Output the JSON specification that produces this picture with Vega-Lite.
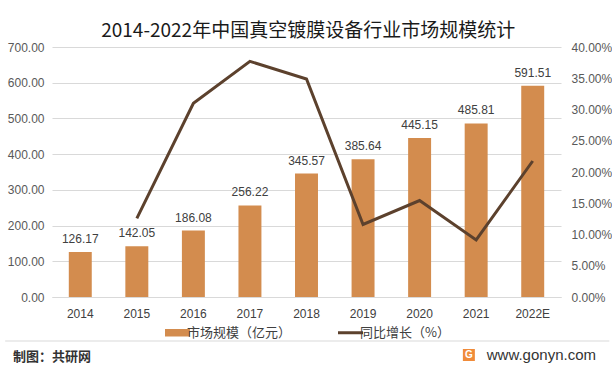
{
  "$schema": "https://vega.github.io/schema/vega-lite/v6.json",
  "background": "white",
  "padding": {"left": 4, "top": 22, "right": 4, "bottom": 0},
  "title": {"text": "2014-2022年中国真空镀膜设备行业市场规模统计", "font": "Noto Sans CJK SC", "fontSize": 19, "fontWeight": "normal", "color": "#1a1a1a", "anchor": "middle", "offset": 0},
  "config": {"view": {"stroke": null}, "concat": {"spacing": 0}},
  "resolve": {"scale": {"color": "independent"}, "legend": {"color": "independent"}},
  "vconcat": [
    {
      "width": 509,
      "height": 250,
      "data": {"values": [
        {"year": "2014", "size": 126.17, "growth": null},
        {"year": "2015", "size": 142.05, "growth": 0.1259},
        {"year": "2016", "size": 186.08, "growth": 0.3100},
        {"year": "2017", "size": 256.22, "growth": 0.3770},
        {"year": "2018", "size": 345.57, "growth": 0.3487},
        {"year": "2019", "size": 385.64, "growth": 0.1160},
        {"year": "2020", "size": 445.15, "growth": 0.1543},
        {"year": "2021", "size": 485.81, "growth": 0.0913},
        {"year": "2022E", "size": 591.51, "growth": 0.2176}
      ]},
      "encoding": {
        "x": {"field": "year", "type": "ordinal", "sort": null, "title": null,
          "scale": {"paddingInner": 0.594, "paddingOuter": 0.297},
          "axis": {"labelAngle": 0, "labelFont": "Liberation Sans", "labelFontSize": 12, "labelColor": "#404040", "labelPadding": 11, "ticks": false, "domain": true, "domainColor": "#d9d9d9", "grid": false}}
      },
      "layer": [
        {
          "encoding": {
            "y": {"field": "size", "type": "quantitative", "title": null,
              "scale": {"domain": [0, 700]},
              "axis": {"values": [0, 100, 200, 300, 400, 500, 600, 700], "format": ".2f", "labelFont": "Liberation Sans", "labelFontSize": 12, "labelColor": "#595959", "ticks": false, "domain": false, "gridColor": "#d9d9d9", "labelPadding": 8}}
          },
          "layer": [
            {
              "mark": {"type": "bar", "color": "#D38C4E"},
              "encoding": {
                "color": {"datum": "市场规模（亿元）", "type": "nominal",
                  "scale": {"domain": ["市场规模（亿元）", "同比增长（%）"], "range": ["#D38C4E", "#5C412D"]},
                  "legend": {"orient": "none", "legendX": 119, "legendY": 279, "direction": "horizontal", "title": null, "labelFont": "Noto Sans CJK SC", "labelFontSize": 13, "labelColor": "#404040", "symbolSize": 625, "columnPadding": 40, "labelOffset": 3,
                    "encode": {"symbols": {"update": {
                      "shape": {"signal": "datum.value === '同比增长（%）' ? 'M-1,0H1' : 'M-1,-0.3H1V0.3H-1Z'"},
                      "fill": {"signal": "datum.value === '同比增长（%）' ? 'transparent' : '#D38C4E'"},
                      "stroke": {"value": "#5C412D"},
                      "strokeWidth": {"signal": "datum.value === '同比增长（%）' ? 3 : 0"},
                      "opacity": {"value": 1}
                    }}}}}
              }
            },
            {
              "mark": {"type": "text", "baseline": "bottom", "dy": -6, "font": "Liberation Sans", "fontSize": 12, "color": "#404040"},
              "encoding": {
                "text": {"field": "size", "type": "quantitative", "format": ".2f"}
              }
            }
          ]
        },
        {
          "mark": {"type": "line", "color": "#5C412D", "strokeWidth": 3},
          "encoding": {
            "y": {"field": "growth", "type": "quantitative", "title": null,
              "scale": {"domain": [0, 0.4]},
              "axis": {"orient": "right", "values": [0, 0.05, 0.1, 0.15, 0.2, 0.25, 0.3, 0.35, 0.4], "format": ".2%", "labelFont": "Liberation Sans", "labelFontSize": 12, "labelColor": "#595959", "ticks": false, "domain": false, "grid": false, "labelPadding": 10}},
            "color": {"datum": "同比增长（%）", "type": "nominal"}
          }
        }
      ],
      "resolve": {"scale": {"y": "independent"}}
    },
    {
      "width": 509,
      "height": 28,
      "data": {"values": [
        {"kind": "sep", "a": -0.092, "b": 1.095, "label": ""},
        {"kind": "left", "a": 0, "b": 0, "label": "制图：共研网"},
        {"kind": "logo", "a": 0.819, "b": 0.819, "label": "G"},
        {"kind": "right", "a": 1, "b": 1, "label": "www.gonyn.com"}
      ]},
      "layer": [
        {
          "transform": [{"filter": "datum.kind == 'sep'"}],
          "mark": {"type": "rule", "color": "#d9d9d9", "strokeWidth": 1},
          "encoding": {
            "x": {"field": "a", "type": "quantitative", "title": null, "scale": {"domain": [0, 1]}, "axis": null},
            "x2": {"field": "b"},
            "y": {"value": 0}
          }
        },
        {
          "transform": [{"filter": "datum.kind == 'left'"}],
          "mark": {"type": "text", "align": "left", "dx": -39, "dy": 2, "font": "Noto Sans CJK SC", "fontSize": 13, "fontWeight": "bold", "color": "#333333"},
          "encoding": {"x": {"field": "a", "type": "quantitative"}, "text": {"field": "label"}}
        },
        {
          "transform": [{"filter": "datum.kind == 'logo'"}],
          "mark": {"type": "square", "filled": true, "color": "#F08B3A", "size": 144, "opacity": 1},
          "encoding": {"x": {"field": "a", "type": "quantitative"}}
        },
        {
          "transform": [{"filter": "datum.kind == 'logo'"}],
          "mark": {"type": "text", "align": "center", "font": "Liberation Sans", "fontSize": 10, "fontWeight": "bold", "color": "white"},
          "encoding": {"x": {"field": "a", "type": "quantitative"}, "text": {"field": "label"}}
        },
        {
          "transform": [{"filter": "datum.kind == 'right'"}],
          "mark": {"type": "text", "align": "right", "dx": 35, "font": "Liberation Sans", "fontSize": 15, "color": "#333333"},
          "encoding": {"x": {"field": "a", "type": "quantitative"}, "text": {"field": "label"}}
        }
      ]
    }
  ]
}
